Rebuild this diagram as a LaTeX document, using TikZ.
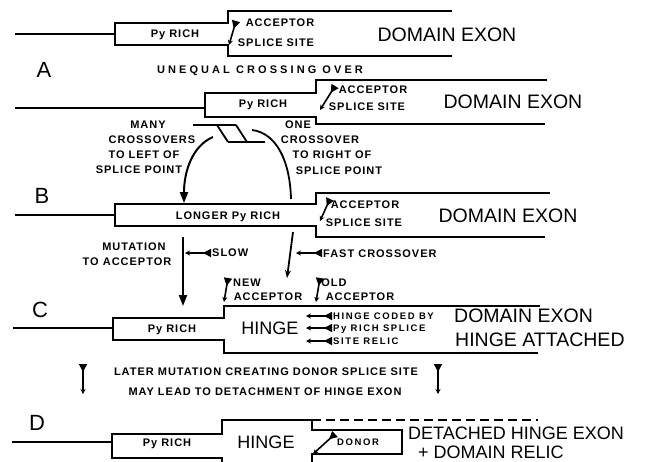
\documentclass[tikz,border=0pt]{standalone}
\usepackage{fontspec}
\setmainfont{Liberation Sans}
\newfontfamily\labfont[LetterSpace=9]{Liberation Sans}
\newfontfamily\widefont[LetterSpace=28]{Liberation Sans}
\newfontfamily\tinyfont[LetterSpace=17]{Liberation Sans}
\newfontfamily\bigfont{Liberation Sans}
\usetikzlibrary{arrows.meta}
\begin{document}
\begin{tikzpicture}[x=1pt,y=-1pt,line join=miter,
 strand/.style={line width=2.4pt},
 lab/.style={font=\labfont\bfseries\fontsize{11}{13}\selectfont, inner sep=0pt, text height=7.9pt, text depth=0pt},
 widelab/.style={lab, font=\widefont\bfseries\fontsize{11}{13}\selectfont},
 tinylab/.style={font=\tinyfont\bfseries\fontsize{9.5}{11}\selectfont, inner sep=0pt, text height=6.8pt, text depth=0pt},
 big/.style={font=\bigfont\fontsize{19.5}{22}\selectfont, inner sep=0pt, text height=14pt, text depth=0pt},
 bigD/.style={font=\bigfont\fontsize{18}{20}\selectfont, inner sep=0pt, text height=12.9pt, text depth=0pt},
 hingelab/.style={font=\bigfont\fontsize{18}{20}\selectfont, inner sep=0pt, text height=12.9pt, text depth=0pt},
 panel/.style={font=\bigfont\fontsize{22}{24}\selectfont, inner sep=0pt, text height=15.8pt, text depth=0pt},
 dart/.style={line width=1.6pt, {Triangle[reversed,length=8pt,width=8pt]}-{Stealth[length=5pt,width=5pt]}},
 bigarrow/.style={line width=2pt, -{Triangle[length=11pt,width=8pt]}},
 midarrow/.style={line width=1.8pt, -{Stealth[length=8pt,width=6pt]}},
 curve/.style={line width=1.8pt},
 xover/.style={line width=1.8pt}]
\fill[white] (0,0) rectangle (648,461);
\useasboundingbox (0,0) rectangle (648,461);

% ---------- A, upper strand
\draw[strand] (15,34) -- (115,34);
\draw[strand] (452,11) -- (228,11) -- (228,23) -- (115,23) -- (115,45) -- (228,45) -- (228,56) -- (452,56);
\node[lab] (pyA) at (175,34) {Py RICH};
\node[lab] (accA) at (280,23) {ACCEPTOR};
\node[lab] (ssA) at (276,43) {SPLICE SITE};
\node[big] (deA) at (447,34) {DOMAIN EXON};
\draw[dart] (236,21) -- (229,45);
\node[panel] (lA) at (44,70) {A};
\node[widelab] (uneq) at (260,70) {UNEQUAL CROSSING OVER};

% ---------- A, lower strand
\draw[strand] (15,108) -- (205,108);
\draw[strand] (547,80) -- (316,80) -- (316,93) -- (205,93) -- (205,117) -- (316,117) -- (316,124) -- (545,124);
\node[lab] (pyA2) at (263,104) {Py RICH};
\node[lab] (accA2) at (373,90) {ACCEPTOR};
\node[lab] (ssA2) at (367,107) {SPLICE SITE};
\node[big] (deA2) at (513,101) {DOMAIN EXON};
\draw[dart] (335,86) -- (320,110);

% ---------- crossover
\draw[xover] (193,125) -- (236,125) (217,125) -- (228,142) (236,125) -- (247,142) (228,142) -- (265,142);
\node[lab] (m1) at (148,125) {MANY};
\node[lab] (m2) at (152,140) {CROSSOVERS};
\node[lab] (m3) at (144,155) {TO LEFT OF};
\node[lab] (m4) at (139,170) {SPLICE POINT};
\node[lab] (o1) at (298,125) {ONE};
\node[lab] (o2) at (320,140) {CROSSOVER};
\node[lab] (o3) at (332,155) {TO RIGHT OF};
\node[lab] (o4) at (339,171) {SPLICE POINT};
\coordinate (xl) at (213,137); \coordinate (bl) at (184,203);
\draw[bigarrow] (xl) .. controls (192,146) and (184,172) .. (bl);
\coordinate (xr) at (252,130); \coordinate (br) at (291,199);
\draw[curve] (xr) .. controls (276,133) and (290,160) .. (br);

% ---------- B
\node[panel] (lB) at (42,196) {B};
\draw[strand] (15,215) -- (115,215);
\draw[strand] (550,193) -- (316,193) -- (316,204) -- (115,204) -- (115,226) -- (316,226) -- (316,237) -- (545,237);
\node[lab] (pyB) at (228,216) {LONGER Py RICH};
\node[lab] (accB) at (365,205) {ACCEPTOR};
\node[lab] (ssB) at (364,223) {SPLICE SITE};
\node[big] (deB) at (508,215) {DOMAIN EXON};
\draw[dart] (330,199) -- (320,221);

% ---------- B to C
\coordinate (ml) at (183,237); \coordinate (cl) at (183,306);
\draw[bigarrow] (ml) -- (cl);
\coordinate (mr) at (293,232); \coordinate (cr) at (287,278);
\draw[midarrow] (mr) -- (cr);
\node[lab] (mut1) at (134,247) {MUTATION};
\node[lab] (mut2) at (127,262) {TO ACCEPTOR};
\node[lab,anchor=west] (slow) at (212,253) {SLOW};
\draw[dart] (211,253) -- (185,253);
\node[lab,anchor=west] (fast) at (323,254) {FAST CROSSOVER};
\draw[dart] (322,253) -- (296,253);

% ---------- C
\node[panel] (lC) at (40,310) {C};
\draw[strand] (13,328) -- (113,328);
\draw[strand] (540,306) -- (224,306) -- (224,318) -- (113,318) -- (113,340) -- (224,340) -- (224,353) -- (538,353);
\node[lab] (pyC) at (172,329) {Py RICH};
\node[lab] (new1) at (247,283) {NEW};
\node[lab] (new2) at (268,297) {ACCEPTOR};
\draw[dart] (228,278) -- (224,302);
\node[lab] (old1) at (334,283) {OLD};
\node[lab] (old2) at (360,297) {ACCEPTOR};
\draw[dart] (320,278) -- (316,302);
\node[hingelab] (hC) at (270,328) {HINGE};
\node[tinylab,anchor=west] (h1) at (333,316) {HINGE CODED BY};
\node[tinylab,anchor=west] (h2) at (333,328) {Py RICH SPLICE};
\node[tinylab,anchor=west] (h3) at (333,341) {SITE RELIC};
\draw[dart] (332,316) -- (306,316);
\draw[dart] (332,328) -- (306,328);
\draw[dart] (332,341) -- (306,341);
\node[big,anchor=west] (deC) at (454,315) {DOMAIN EXON};
\node[big,anchor=west] (haC) at (455,339) {HINGE ATTACHED};

% ---------- C to D
\node[lab] (lat1) at (266,372) {LATER MUTATION CREATING DONOR SPLICE SITE};
\node[lab] (lat2) at (265,392) {MAY LEAD TO DETACHMENT OF HINGE EXON};
\draw[dart] (83,364) -- (83,394);
\draw[dart] (438,364) -- (438,394);

% ---------- D
\node[panel] (lD) at (37,423) {D};
\draw[strand] (12,442) -- (112,442);
\draw[strand] (222,465) -- (222,458) -- (112,458) -- (112,434) -- (222,434) -- (222,420) -- (312,420) -- (312,430) -- (402,430) -- (402,454) -- (312,454) -- (312,465);
\draw[strand, dash pattern=on 9pt off 5pt] (312,420) -- (538,420);
\node[lab] (pyD) at (167,443) {Py RICH};
\node[hingelab] (hD) at (266,442) {HINGE};
\node[tinylab] (don) at (358,442) {DONOR};
\draw[dart] (335,434) -- (313,454);
\node[bigD,anchor=west] (det) at (408,433) {DETACHED HINGE EXON};
\node[bigD,anchor=west] (rel) at (418,452) {+ DOMAIN RELIC};
\end{tikzpicture}
\end{document}
